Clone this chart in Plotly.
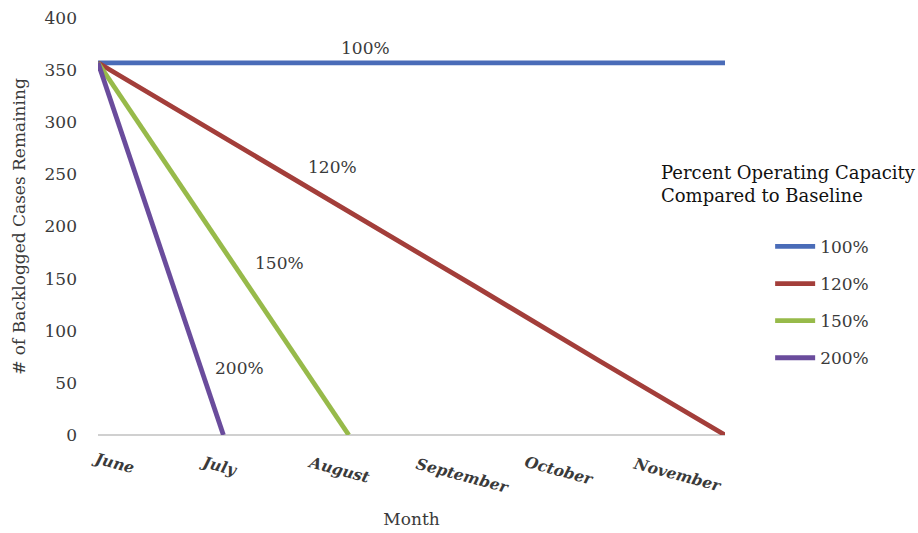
import plotly.graph_objects as go

# Backlog projections by operating capacity
months = ["June", "July", "August", "September", "October", "November"]
series_names = ["100%", "120%", "150%", "200%"]
cap_100 = [357, 357, 357, 357, 357, 357]
cap_120 = [357, 286, 214, 143, 71, 0]
cap_150 = [357, 178, 0]
cap_200 = [357, 0]
colors = ["#4A6CB8", "#A33E3A", "#97BA4A", "#6A4C9C"]
y_ticks = [0, 50, 100, 150, 200, 250, 300, 350, 400]

# Inline series label placement (category index, value)
label_x = [2.13, 1.87, 1.45, 1.13]
label_y = [371, 257, 165, 64]

# Month label placement (category index of label centre, paper y of centre)
month_lx = [0.12, 0.96, 1.92, 2.91, 3.68, 4.62]
month_ly = [-0.066, -0.072, -0.082, -0.096, -0.084, -0.094]

serif = "DejaVu Serif"
ink = "#3A3A3A"

fig = go.Figure()
all_series = [cap_100, cap_120, cap_150, cap_200]
for i, (name, vals) in enumerate(zip(series_names, all_series)):
    fig.add_trace(go.Scatter(
        x=list(range(len(vals))), y=vals, mode="lines", name=name,
        line=dict(color=colors[i], width=4.8),
        legendgroup=name,
    ))
    fig.add_annotation(x=label_x[i], y=label_y[i], text=name, showarrow=False,
                       font=dict(family=serif, size=17, color=ink))

# Slanted month labels under the axis
for m, lx, ly in zip(months, month_lx, month_ly):
    fig.add_annotation(
        x=lx, y=ly, xref="x", yref="paper", text=m, showarrow=False,
        textangle=15, xanchor="center", yanchor="middle",
        font=dict(family=serif, size=15.5, color=ink, weight="bold", style="italic"),
    )

fig.add_annotation(
    xref="paper", yref="paper", x=0.894, y=0.66, xanchor="left", yanchor="top",
    text="Percent Operating Capacity<br>Compared to Baseline", align="left",
    showarrow=False, font=dict(family=serif, size=18, color="#111111"),
)

fig.update_layout(
    width=918, height=533,
    margin=dict(l=98, r=193, t=18, b=98),
    plot_bgcolor="white", paper_bgcolor="white",
    showlegend=True,
    legend=dict(
        x=1.072, y=0.318, xanchor="left", yanchor="middle",
        font=dict(family=serif, size=17, color=ink),
        tracegroupgap=12, itemwidth=40,
    ),
    xaxis=dict(
        range=[0, 5], tickmode="array", tickvals=list(range(len(months))),
        ticktext=months, showticklabels=False, showgrid=False, zeroline=False,
        showline=False, ticks="", automargin=False,
        title=dict(text="Month", font=dict(family=serif, size=17, color=ink), standoff=78),
    ),
    yaxis=dict(
        range=[0, 400], tickvals=y_ticks, showgrid=False, zeroline=True,
        zerolinecolor="#D0D0D0", zerolinewidth=1.5, showline=False, ticks="",
        ticklabelstandoff=20, automargin=False,
        tickfont=dict(family=serif, size=17, color=ink),
        title=dict(text="# of Backlogged Cases Remaining",
                   font=dict(family=serif, size=17, color=ink), standoff=14),
    ),
)

fig.write_html("out.html")
